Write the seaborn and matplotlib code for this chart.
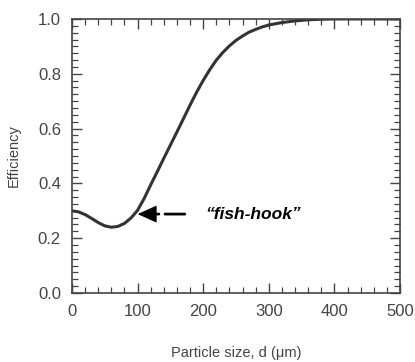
import matplotlib
matplotlib.use("Agg")
import matplotlib.pyplot as plt
import seaborn as sns
import pandas as pd
from matplotlib.ticker import MultipleLocator

particle_size = [0, 10, 20, 30, 40, 50, 60, 70, 80, 90, 100, 110, 120, 130, 140,
                 150, 160, 170, 180, 190, 200, 210, 220, 230, 240, 250, 260, 270,
                 280, 290, 300, 320, 340, 360, 380, 400, 450, 500]
efficiency = [0.300, 0.296, 0.286, 0.272, 0.257, 0.245, 0.240, 0.243, 0.254, 0.274,
              0.302, 0.345, 0.395, 0.443, 0.492, 0.540, 0.588, 0.637, 0.686, 0.733,
              0.776, 0.815, 0.850, 0.878, 0.902, 0.922, 0.938, 0.952, 0.962, 0.971,
              0.978, 0.987, 0.993, 0.997, 0.999, 1.000, 1.000, 1.000]

x_ticks = [0, 100, 200, 300, 400, 500]
y_ticks = [0.0, 0.2, 0.4, 0.6, 0.8, 1.0]
x_label = "Particle size, d (\u03bcm)"
y_label = "Efficiency"
annotation = "\u201cfish-hook\u201d"

df = pd.DataFrame({"d": particle_size, "eff": efficiency})

sns.set_theme(style="ticks")
plt.rcParams["font.family"] = ["Liberation Sans", "DejaVu Sans"]

fig = plt.figure(figsize=(4.15, 3.62), dpi=100)
ax = fig.add_axes([0.1735, 0.1906, 0.7905, 0.757])

sns.lineplot(data=df, x="d", y="eff", ax=ax, color="#333333", linewidth=2.2)

ax.set_xlim(0, 500)
ax.set_ylim(0, 1.0)
ax.set_xticks(x_ticks)
ax.set_xticklabels([str(t) for t in x_ticks])
ax.set_yticks(y_ticks)
ax.set_yticklabels([f"{t:.1f}" for t in y_ticks])
ax.xaxis.set_minor_locator(MultipleLocator(20))
ax.yaxis.set_minor_locator(MultipleLocator(0.025))
ax.tick_params(which="both", direction="in", top=True, right=True,
               colors="#444444", labelcolor="#444444")
ax.tick_params(which="major", length=7, width=1.0, labelsize=12, pad=8)
ax.tick_params(which="minor", length=4, width=0.9)
for s in ax.spines.values():
    s.set_color("#444444")
    s.set_linewidth(1.2)

ax.set_xlabel(x_label, fontsize=10.5, color="#444444", labelpad=19)
ax.set_ylabel(y_label, fontsize=10.5, color="#444444", labelpad=12)

# dot-dash shaft
ax.annotate("", xy=(172, 0.288), xytext=(129.5, 0.288),
            arrowprops=dict(arrowstyle="-", color="black", linewidth=2.0,
                            linestyle=(0, (0.7, 2.2, 7.2, 30)),
                            shrinkA=0, shrinkB=0))
# solid head
ax.annotate("", xy=(100, 0.288), xytext=(123, 0.288),
            arrowprops=dict(arrowstyle="-|>,head_length=1.0,head_width=0.45",
                            color="black", linewidth=1.0,
                            shrinkA=0, shrinkB=0))
ax.text(203, 0.288, annotation, fontsize=12.5, fontweight="bold",
        fontstyle="italic", va="center", ha="left", color="black")

fig.savefig("out.png", dpi=100)
